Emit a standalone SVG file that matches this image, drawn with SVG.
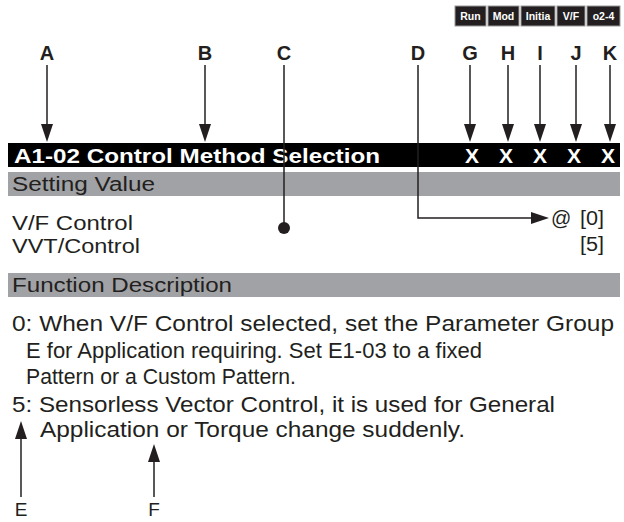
<svg xmlns="http://www.w3.org/2000/svg" width="624" height="522" viewBox="0 0 624 522">
<style>
.lbl{font-family:"Liberation Sans",Arial,sans-serif;font-weight:bold;font-size:20px;fill:#231f20;text-anchor:middle}
.tab{font-family:"Liberation Sans",Arial,sans-serif;font-weight:bold;font-size:10.5px;fill:#fff;text-anchor:middle}
.tabbox{fill:#231f20;stroke:#9a9a9a;stroke-width:1}
.hdr{font-family:"Liberation Sans",Arial,sans-serif;font-weight:bold;font-size:21px;fill:#fff}
.sub{font-family:"Liberation Sans",Arial,sans-serif;font-size:20px;fill:#231f20}
.txt{font-family:"Liberation Sans",Arial,sans-serif;font-size:22px;fill:#231f20}
.ef{font-family:"Liberation Sans",Arial,sans-serif;font-size:19px;fill:#231f20;text-anchor:middle}
.ln{stroke:#231f20;stroke-width:1.5;fill:none}
.head{fill:#231f20}
.gray{fill:#a1a2a5}
</style>

<g id="tabs">
<rect class="tabbox" x="455" y="6" width="31" height="20"/>
<text class="tab" x="470.5" y="20">Run</text>
<rect class="tabbox" x="488" y="6" width="31" height="20"/>
<text class="tab" x="503.5" y="20">Mod</text>
<rect class="tabbox" x="521" y="6" width="34" height="20"/>
<text class="tab" x="538" y="20">Initia</text>
<rect class="tabbox" x="557" y="6" width="28" height="20"/>
<text class="tab" x="571" y="20">V/F</text>
<rect class="tabbox" x="587" y="6" width="33" height="20"/>
<text class="tab" x="603.5" y="20">o2-4</text>
</g>

<g id="labels">
<text class="lbl" x="47" y="60">A</text>
<text class="lbl" x="205" y="60">B</text>
<text class="lbl" x="284" y="60">C</text>
<text class="lbl" x="418" y="60">D</text>
<text class="lbl" x="470" y="60">G</text>
<text class="lbl" x="508" y="60">H</text>
<text class="lbl" x="540" y="60">I</text>
<text class="lbl" x="576" y="60">J</text>
<text class="lbl" x="610" y="60">K</text>
</g>

<g id="header">
<rect x="8" y="143" width="612" height="24" fill="#000"/>
<text class="hdr" x="14" y="163" textLength="366" lengthAdjust="spacingAndGlyphs">A1-02 Control Method Selection</text>
<text class="hdr" x="472" y="163" text-anchor="middle">X</text>
<text class="hdr" x="506" y="163" text-anchor="middle">X</text>
<text class="hdr" x="540" y="163" text-anchor="middle">X</text>
<text class="hdr" x="574" y="163" text-anchor="middle">X</text>
<text class="hdr" x="608" y="163" text-anchor="middle">X</text>
</g>

<g id="setting">
<rect class="gray" x="8" y="172" width="612" height="24"/>
<text class="sub" x="12" y="191" textLength="143" lengthAdjust="spacingAndGlyphs">Setting Value</text>
<text class="sub" x="12" y="230" textLength="121" lengthAdjust="spacingAndGlyphs">V/F Control</text>
<text class="sub" x="12" y="253" textLength="128" lengthAdjust="spacingAndGlyphs">VVT/Control</text>
<text class="sub" x="551" y="225">@</text>
<text class="sub" x="604" y="225" text-anchor="end" textLength="24" lengthAdjust="spacingAndGlyphs">[0]</text>
<text class="sub" x="604" y="251" text-anchor="end" textLength="24" lengthAdjust="spacingAndGlyphs">[5]</text>
</g>

<g id="function">
<rect class="gray" x="8" y="273" width="612" height="24"/>
<text class="sub" x="12" y="292" textLength="220" lengthAdjust="spacingAndGlyphs">Function Description</text>
<text class="txt" x="12" y="331" textLength="602" lengthAdjust="spacingAndGlyphs">0: When V/F Control selected, set the Parameter Group</text>
<text class="txt" x="26" y="358" textLength="456" lengthAdjust="spacingAndGlyphs">E for Application requiring. Set E1-03 to a fixed</text>
<text class="txt" x="26" y="384" textLength="270" lengthAdjust="spacingAndGlyphs">Pattern or a Custom Pattern.</text>
<text class="txt" x="12" y="412" textLength="543" lengthAdjust="spacingAndGlyphs">5: Sensorless Vector Control, it is used for General</text>
<text class="txt" x="40" y="437" textLength="425" lengthAdjust="spacingAndGlyphs">Application or Torque change suddenly.</text>
<text class="ef" x="21" y="516">E</text>
<text class="ef" x="154" y="516">F</text>
</g>

<g id="connectors">
<line class="ln" x1="47" y1="65" x2="47" y2="126"/>
<path class="head" d="M41,124 L53,124 L47,142 Z"/>
<line class="ln" x1="205" y1="65" x2="205" y2="126"/>
<path class="head" d="M199,124 L211,124 L205,142 Z"/>
<line class="ln" x1="470" y1="65" x2="470" y2="126"/>
<path class="head" d="M464,124 L476,124 L470,142 Z"/>
<line class="ln" x1="508" y1="65" x2="508" y2="126"/>
<path class="head" d="M502,124 L514,124 L508,142 Z"/>
<line class="ln" x1="540" y1="65" x2="540" y2="126"/>
<path class="head" d="M534,124 L546,124 L540,142 Z"/>
<line class="ln" x1="576" y1="65" x2="576" y2="126"/>
<path class="head" d="M570,124 L582,124 L576,142 Z"/>
<line class="ln" x1="610" y1="65" x2="610" y2="126"/>
<path class="head" d="M604,124 L616,124 L610,142 Z"/>
<line class="ln" x1="284" y1="65" x2="284" y2="226"/>
<circle cx="284" cy="228" r="6" fill="#231f20"/>
<polyline class="ln" points="418,65 418,218 533,218"/>
<path class="head" d="M531,212 L531,224 L549,218 Z"/>
<line class="ln" x1="21" y1="497" x2="21" y2="437"/>
<path class="head" d="M15,439 L27,439 L21,421 Z"/>
<line class="ln" x1="154" y1="497" x2="154" y2="460"/>
<path class="head" d="M148,462 L160,462 L154,444 Z"/>
</g>
</svg>
